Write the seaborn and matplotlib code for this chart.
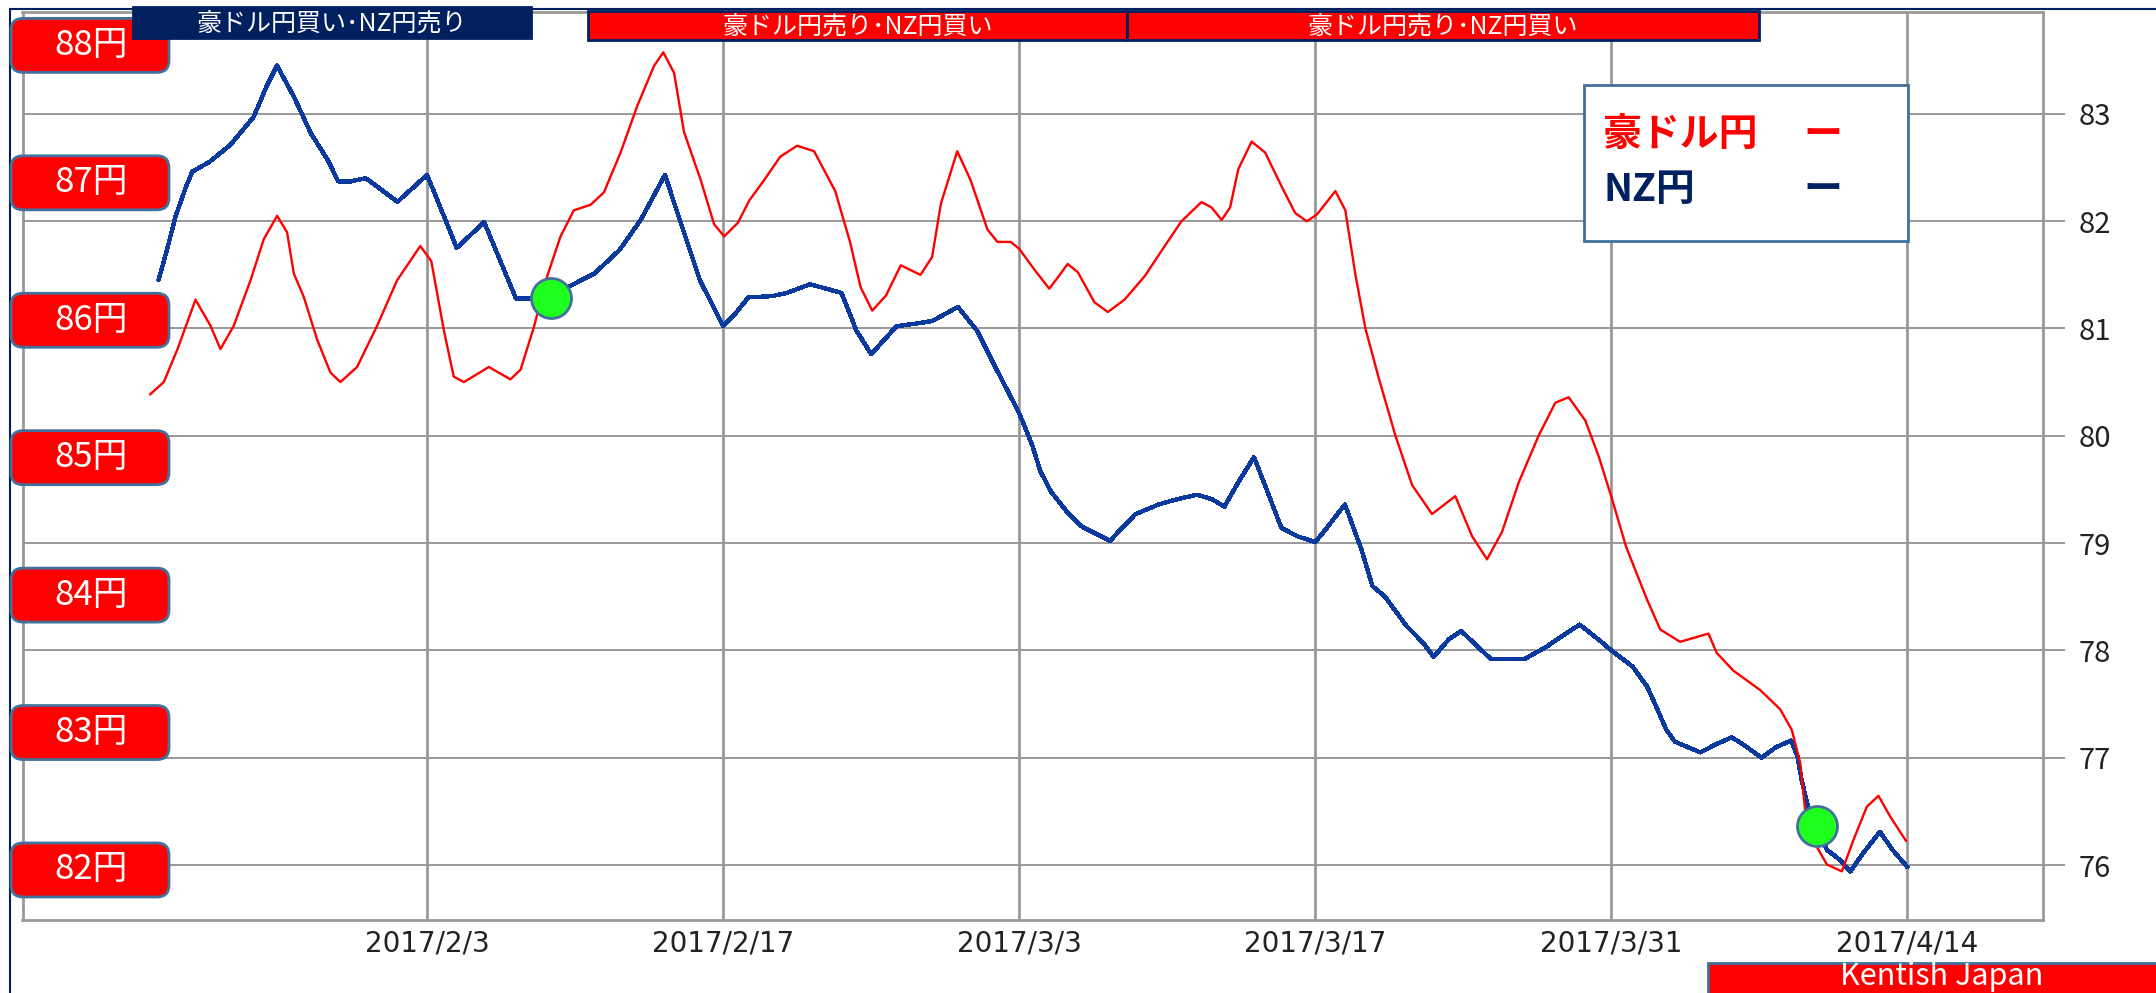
import pandas as pd
import matplotlib
matplotlib.use("Agg")
import matplotlib.pyplot as plt
from matplotlib.patches import Rectangle, FancyBboxPatch
from matplotlib.lines import Line2D
import seaborn as sns

# values, days counted from 2017/2/3
aud_days = [-13.1, -12.45, -11.8, -10.95, -10.24, -9.77, -9.14, -8.35, -7.72, -7.09,
            -6.62, -6.3, -5.83, -5.2, -4.57, -4.1, -3.31, -2.36, -1.42, -0.32,
            0.2, 0.79, 1.26, 1.74, 2.92, 3.94, 4.42, 5.05, 5.68, 6.31,
            6.94, 7.73, 8.36, 9.15, 9.94, 10.73, 11.17, 11.68, 12.15, 12.94,
            13.57, 14.05, 14.7, 15.23, 15.94, 16.7, 17.5, 18.3, 19.3, 20.0,
            20.5, 21.05, 21.7, 22.4, 23.33, 23.88, 24.3, 25.07, 25.7, 26.5,
            26.97, 27.6, 28.0, 28.71, 29.42, 29.82, 30.29, 30.77, 31.56, 32.19,
            32.98, 33.93, 34.88, 35.67, 36.62, 37.1, 37.57, 37.97, 38.36, 38.99,
            39.63, 40.42, 41.05, 41.6, 42.08, 42.95, 43.42, 43.9, 44.37, 45.0,
            45.79, 46.58, 47.52, 48.62, 49.41, 50.12, 50.83, 51.62, 52.56, 53.35,
            53.98, 54.77, 55.4, 56.03, 56.7, 57.68, 58.31, 59.25, 60.59, 60.98,
            61.77, 63.03, 63.98, 64.53, 64.93, 65.16, 65.71, 66.19, 66.9, 67.45,
            68.08, 68.63, 69.18, 69.94]
aud_yen = [85.46, 85.55, 85.79, 86.15, 85.96, 85.79, 85.96, 86.29, 86.59, 86.76,
           86.64, 86.34, 86.17, 85.86, 85.62, 85.55, 85.66, 85.96, 86.29, 86.54,
           86.43, 85.93, 85.59, 85.55, 85.66, 85.57, 85.64, 85.95, 86.32, 86.61,
           86.80, 86.84, 86.93, 87.22, 87.56, 87.85, 87.95, 87.80, 87.37, 87.02,
           86.70, 86.61, 86.71, 86.87, 87.02, 87.19, 87.27, 87.23, 86.94, 86.57,
           86.24, 86.07, 86.18, 86.40, 86.33, 86.46, 86.85, 87.23, 87.02, 86.66,
           86.57, 86.57, 86.52, 86.37, 86.23, 86.31, 86.41, 86.35, 86.13, 86.06,
           86.15, 86.32, 86.54, 86.72, 86.86, 86.82, 86.73, 86.82, 87.10, 87.30,
           87.22, 86.97, 86.78, 86.72, 86.77, 86.94, 86.80, 86.33, 85.94, 85.58,
           85.16, 84.80, 84.59, 84.72, 84.43, 84.26, 84.46, 84.82, 85.16, 85.40,
           85.44, 85.27, 85.01, 84.70, 84.35, 83.97, 83.75, 83.66, 83.72, 83.58,
           83.45, 83.31, 83.17, 83.02, 82.78, 82.44, 82.17, 82.04, 81.99, 82.22,
           82.46, 82.54, 82.39, 82.21]

nz_days = [-12.7, -12.3, -11.9, -11.4, -11.1, -10.3, -9.3, -8.2, -7.6, -7.1,
           -6.3, -5.5, -4.7, -4.2, -3.6, -2.9, -1.4, 0.0, 0.5, 1.4,
           2.7, 4.2, 4.9, 5.9, 6.8, 7.9, 9.1, 10.1, 11.25, 12.0,
           12.9, 14.0, 14.5, 15.2, 16.3, 17.0, 18.1, 18.7, 19.6, 20.3,
           21.0, 22.2, 23.3, 23.9, 25.1, 26.0, 27.0, 28.0, 28.6, 29.0,
           29.5, 30.3, 30.9, 31.7, 32.3, 32.8, 33.5, 34.6, 35.5, 36.4,
           37.1, 37.7, 38.4, 39.1, 39.6, 40.4, 41.2, 42.0, 42.5, 43.4,
           43.7, 44.2, 44.7, 45.3, 46.3, 47.1, 47.6, 48.3, 48.9, 49.6,
           50.3, 51.9, 52.9, 53.8, 54.5, 55.4, 56.0, 57.0, 57.7, 58.2,
           58.6, 59.0, 59.6, 60.2, 61.0, 61.7, 62.4, 63.1, 63.8, 64.5,
           64.8, 65.0, 65.3, 65.7, 66.2, 66.8, 67.3, 67.9, 68.7, 69.3,
           70.0]
nz_yen = [81.45, 81.73, 82.04, 82.32, 82.46, 82.55, 82.71, 82.97, 83.25, 83.45,
          83.16, 82.82, 82.57, 82.37, 82.37, 82.40, 82.18, 82.43, 82.19, 81.75,
          81.99, 81.28, 81.28, 81.30, 81.40, 81.51, 81.73, 82.01, 82.43, 81.98,
          81.45, 81.02, 81.12, 81.29, 81.30, 81.33, 81.41, 81.38, 81.33, 80.98,
          80.76, 81.02, 81.05, 81.07, 81.20, 80.98, 80.59, 80.21, 79.92, 79.67,
          79.48, 79.28, 79.16, 79.08, 79.02, 79.13, 79.27, 79.36, 79.41, 79.45,
          79.41, 79.34, 79.58, 79.80, 79.55, 79.14, 79.06, 79.01, 79.13, 79.36,
          79.20, 78.93, 78.60, 78.50, 78.23, 78.07, 77.94, 78.10, 78.18, 78.05,
          77.92, 77.92, 78.03, 78.15, 78.24, 78.10, 78.00, 77.85, 77.66, 77.44,
          77.26, 77.15, 77.10, 77.05, 77.13, 77.19, 77.10, 77.00, 77.10, 77.16,
          77.01, 76.79, 76.54, 76.36, 76.14, 76.05, 75.94, 76.11, 76.31, 76.14,
          75.98]

signal_days = [5.85, 65.7]
signal_nz = [81.28, 76.36]

date_ticks = ["2017-02-03", "2017-02-17", "2017-03-03", "2017-03-17", "2017-03-31", "2017-04-14"]
date_labels = ["2017/2/3", "2017/2/17", "2017/3/3", "2017/3/17", "2017/3/31", "2017/4/14"]
nz_ticks = [76, 77, 78, 79, 80, 81, 82, 83]
aud_levels = [88, 87, 86, 85, 84, 83, 82]
banner_texts = ["豪ドル円買い･NZ円売り", "豪ドル円売り･NZ円買い", "豪ドル円売り･NZ円買い"]
legend_labels = ["豪ドル円", "NZ円"]

BASE = pd.Timestamp("2017-02-03")
W, H = 2156, 993
RED = "#FF0000"
NAVY = "#002060"
BLUE = "#0A3A9E"
GRID = "#999999"
EDGE = "#41719C"
GREEN = "#1EFF1E"

sns.set_style("white")
plt.rcParams["font.family"] = ["Noto Sans CJK JP", "DejaVu Sans"]


def to_dates(days):
    return BASE + pd.to_timedelta(days, unit="D")


def fx(x):
    return x / W


def fy(y):
    return 1 - y / H


aud_df = pd.DataFrame({"date": to_dates(aud_days), "yen": aud_yen})
nz_df = pd.DataFrame({"date": to_dates(nz_days), "yen": nz_yen})
sig_df = pd.DataFrame({"date": to_dates(signal_days), "yen": signal_nz})

fig = plt.figure(figsize=(W / 100, H / 100), dpi=100, facecolor="white")
ax = fig.add_axes([fx(22.5), fy(920), (2043 - 22.5) / W, 908 / H])
ax2 = ax.twinx()   # NZ円 scale (right), carries the grid
ax3 = ax.twinx()   # same scale, only for the signal dots on top
ax2.set_zorder(1)
ax.set_zorder(2)
ax3.set_zorder(3)
ax.patch.set_visible(False)
ax2.patch.set_visible(True)
ax2.patch.set_facecolor("white")

# lines
sns.lineplot(data=nz_df, x="date", y="yen", ax=ax2, color=BLUE, linewidth=2.4,
             antialiased=False, sort=False)
sns.lineplot(data=aud_df, x="date", y="yen", ax=ax, color=RED, linewidth=1.7, sort=False)
sns.scatterplot(data=sig_df, x="date", y="yen", ax=ax3, s=830, color=GREEN,
                edgecolor=EDGE, linewidth=2, zorder=5)

# scales
ax.set_xlim(to_dates([-19.13])[0], to_dates([76.41])[0])
ax.set_ylim(81.636, 88.243)
ax2.set_ylim(75.488, 83.948)
ax3.set_ylim(75.488, 83.948)
ax3.axis("off")

ax.set_xticks(pd.to_datetime(date_ticks))
ax.set_xticklabels(date_labels, fontfamily="DejaVu Sans")
ax.tick_params(axis="x", length=0, pad=7, labelsize=20, labelcolor="#222222")
ax.set_yticks([])
ax.set_xlabel("")
ax.set_ylabel("")
for s in ax.spines.values():
    s.set_color(GRID)
    s.set_linewidth(2)

ax2.set_yticks(nz_ticks)
ax2.set_yticklabels([str(t) for t in nz_ticks])
ax2.tick_params(axis="y", length=16, width=1.4, color=GRID, pad=10,
                labelsize=21, labelcolor="#222222", direction="out")
ax2.xaxis.set_visible(True)
ax2.tick_params(axis="x", bottom=False, top=False, labelbottom=False, labeltop=False)
ax2.grid(True, axis="x", color=GRID, linewidth=2.0)
ax2.grid(True, axis="y", color=GRID, linewidth=1.4)
ax2.set_ylabel("")
ax2.set_xlabel("")
for s in ax2.spines.values():
    s.set_visible(False)

# 円 level boxes on the left, placed from the 豪ドル円 scale
inv = fig.transFigure.inverted()
x0 = ax.get_xlim()[0]
for lv in aud_levels:
    cy = inv.transform(ax.transData.transform((x0, lv)))[1]
    box = FancyBboxPatch((fx(90) - fx(79), cy - 27 / H), 158 / W, 54 / H,
                         boxstyle="round,pad=0,rounding_size=%f" % (12 / W),
                         mutation_aspect=W / H, transform=fig.transFigure,
                         facecolor=RED, edgecolor=EDGE, linewidth=2, zorder=4)
    fig.add_artist(box)
    fig.text(fx(91), cy, f"{lv}円", color="white", fontsize=25,
             ha="center", va="center", zorder=5)

# banners across the top
banners = [(133, 531, 7, 38, NAVY), (588, 1127, 11, 40, RED), (1127, 1759, 11, 40, RED)]
for (bx0, bx1, by0, by1, fc), txt in zip(banners, banner_texts):
    fig.add_artist(Rectangle((fx(bx0), fy(by1)), (bx1 - bx0) / W, (by1 - by0) / H,
                             transform=fig.transFigure, facecolor=fc,
                             edgecolor=NAVY, linewidth=2, zorder=4))
    fig.text(fx((bx0 + bx1) / 2), fy((by0 + by1) / 2 + 1), txt, color="white",
             fontsize=18, ha="center", va="center", zorder=5)

# legend box
fig.add_artist(Rectangle((fx(1584), fy(241)), (1908 - 1584) / W, (241 - 85) / H,
                         transform=fig.transFigure, facecolor="white",
                         edgecolor=EDGE, linewidth=2, zorder=4))
for label, col, ly in zip(legend_labels, [RED, NAVY], [134, 189]):
    fig.text(fx(1603), fy(ly), label, color=col, fontsize=28, fontweight="bold",
             ha="left", va="center", zorder=5)
    fig.text(fx(1823), fy(ly), "ー", color=col, fontsize=28, fontweight="bold",
             ha="center", va="center", zorder=5)

# outer frame lines
fig.add_artist(Line2D([fx(10), fx(10)], [fy(9), 0], transform=fig.transFigure,
                      color=NAVY, linewidth=1.5, zorder=3))
fig.add_artist(Line2D([fx(10), 1], [fy(9), fy(9)], transform=fig.transFigure,
                      color=NAVY, linewidth=1.5, zorder=3))

# credit tag
fig.add_artist(Rectangle((fx(1708), fy(1000)), (2170 - 1708) / W, 37 / H,
                         transform=fig.transFigure, facecolor=RED,
                         edgecolor=EDGE, linewidth=2, zorder=4))
fig.text(fx(1942), fy(985), "Kentish Japan", color="white", fontsize=22,
         ha="center", va="baseline", zorder=5)

fig.savefig("out.png", dpi=100, facecolor="white")
